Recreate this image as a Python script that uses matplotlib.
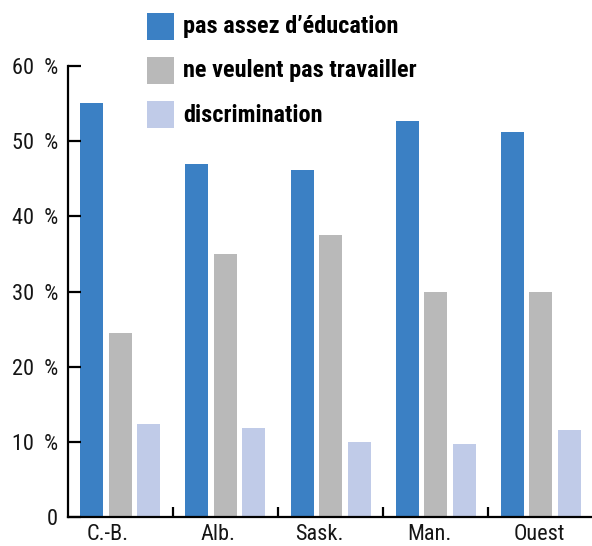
import numpy as np
import matplotlib.pyplot as plt
from matplotlib.patches import Rectangle
from matplotlib.ticker import FixedLocator

regions = ["C.-B.", "Alb.", "Sask.", "Man.", "Ouest"]
education = [55.1, 46.9, 46.1, 52.7, 51.2]
no_work = [24.5, 35.0, 37.5, 29.9, 29.9]
discrimination = [12.4, 11.8, 10.0, 9.7, 11.6]
series_names = ["pas assez d\u2019éducation", "ne veulent pas travailler", "discrimination"]
colors = ["#3b80c4", "#b9b9b9", "#c0cbe8"]

W, H = 592, 546
fig = plt.figure(figsize=(W / 100, H / 100), dpi=100)
ax = fig.add_axes([0.1144, 0.0531, 0.888, 0.826])

x = np.arange(len(regions))
w = 0.2185
step = 0.271
for k, vals in enumerate([education, no_work, discrimination]):
    ax.bar(x + (k - 1) * step, vals, width=w, color=colors[k])

ax.set_xlim(-0.5, 4.5)
ax.set_ylim(0, 60)

for s in ["top", "right"]:
    ax.spines[s].set_visible(False)
for s in ["left", "bottom"]:
    ax.spines[s].set_linewidth(1.6)

tick_font = {"family": ["Roboto Condensed", "Liberation Sans", "DejaVu Sans"], "size": 16, "color": "#151515"}
ax.set_yticks(np.arange(0, 61, 10))
ax.set_yticklabels(["0"] + [f"{v}  %" for v in range(10, 61, 10)], fontdict=tick_font)
ax.tick_params(axis="y", direction="in", length=9, width=1.6, pad=7)

# labels sit a little left of the group centres in the original
label_shift = [-0.12, -0.07, -0.11, -0.06, -0.01]
ax.set_xticks(x + np.array(label_shift))
ax.set_xticklabels(regions, fontdict=tick_font)
ax.tick_params(axis="x", which="major", length=0, pad=5)
ax.xaxis.set_minor_locator(FixedLocator([0.5, 1.5, 2.5, 3.5]))
ax.tick_params(axis="x", which="minor", direction="in", length=7.5, width=1.6)

# legend drawn by hand: squares + bold labels
leg_font = {"family": ["Roboto Condensed", "Liberation Sans", "DejaVu Sans"], "weight": "bold", "size": 17.5}
for k, name in enumerate(series_names):
    top = 13 + 44 * k
    fig.add_artist(Rectangle((147 / W, 1 - (top + 27) / H), 27 / W, 27 / H,
                             transform=fig.transFigure, color=colors[k], lw=0))
    fig.text(183 / W, 1 - (top + 14) / H, name, ha="left", va="center", fontdict=leg_font)

fig.savefig("out.png", dpi=100)
